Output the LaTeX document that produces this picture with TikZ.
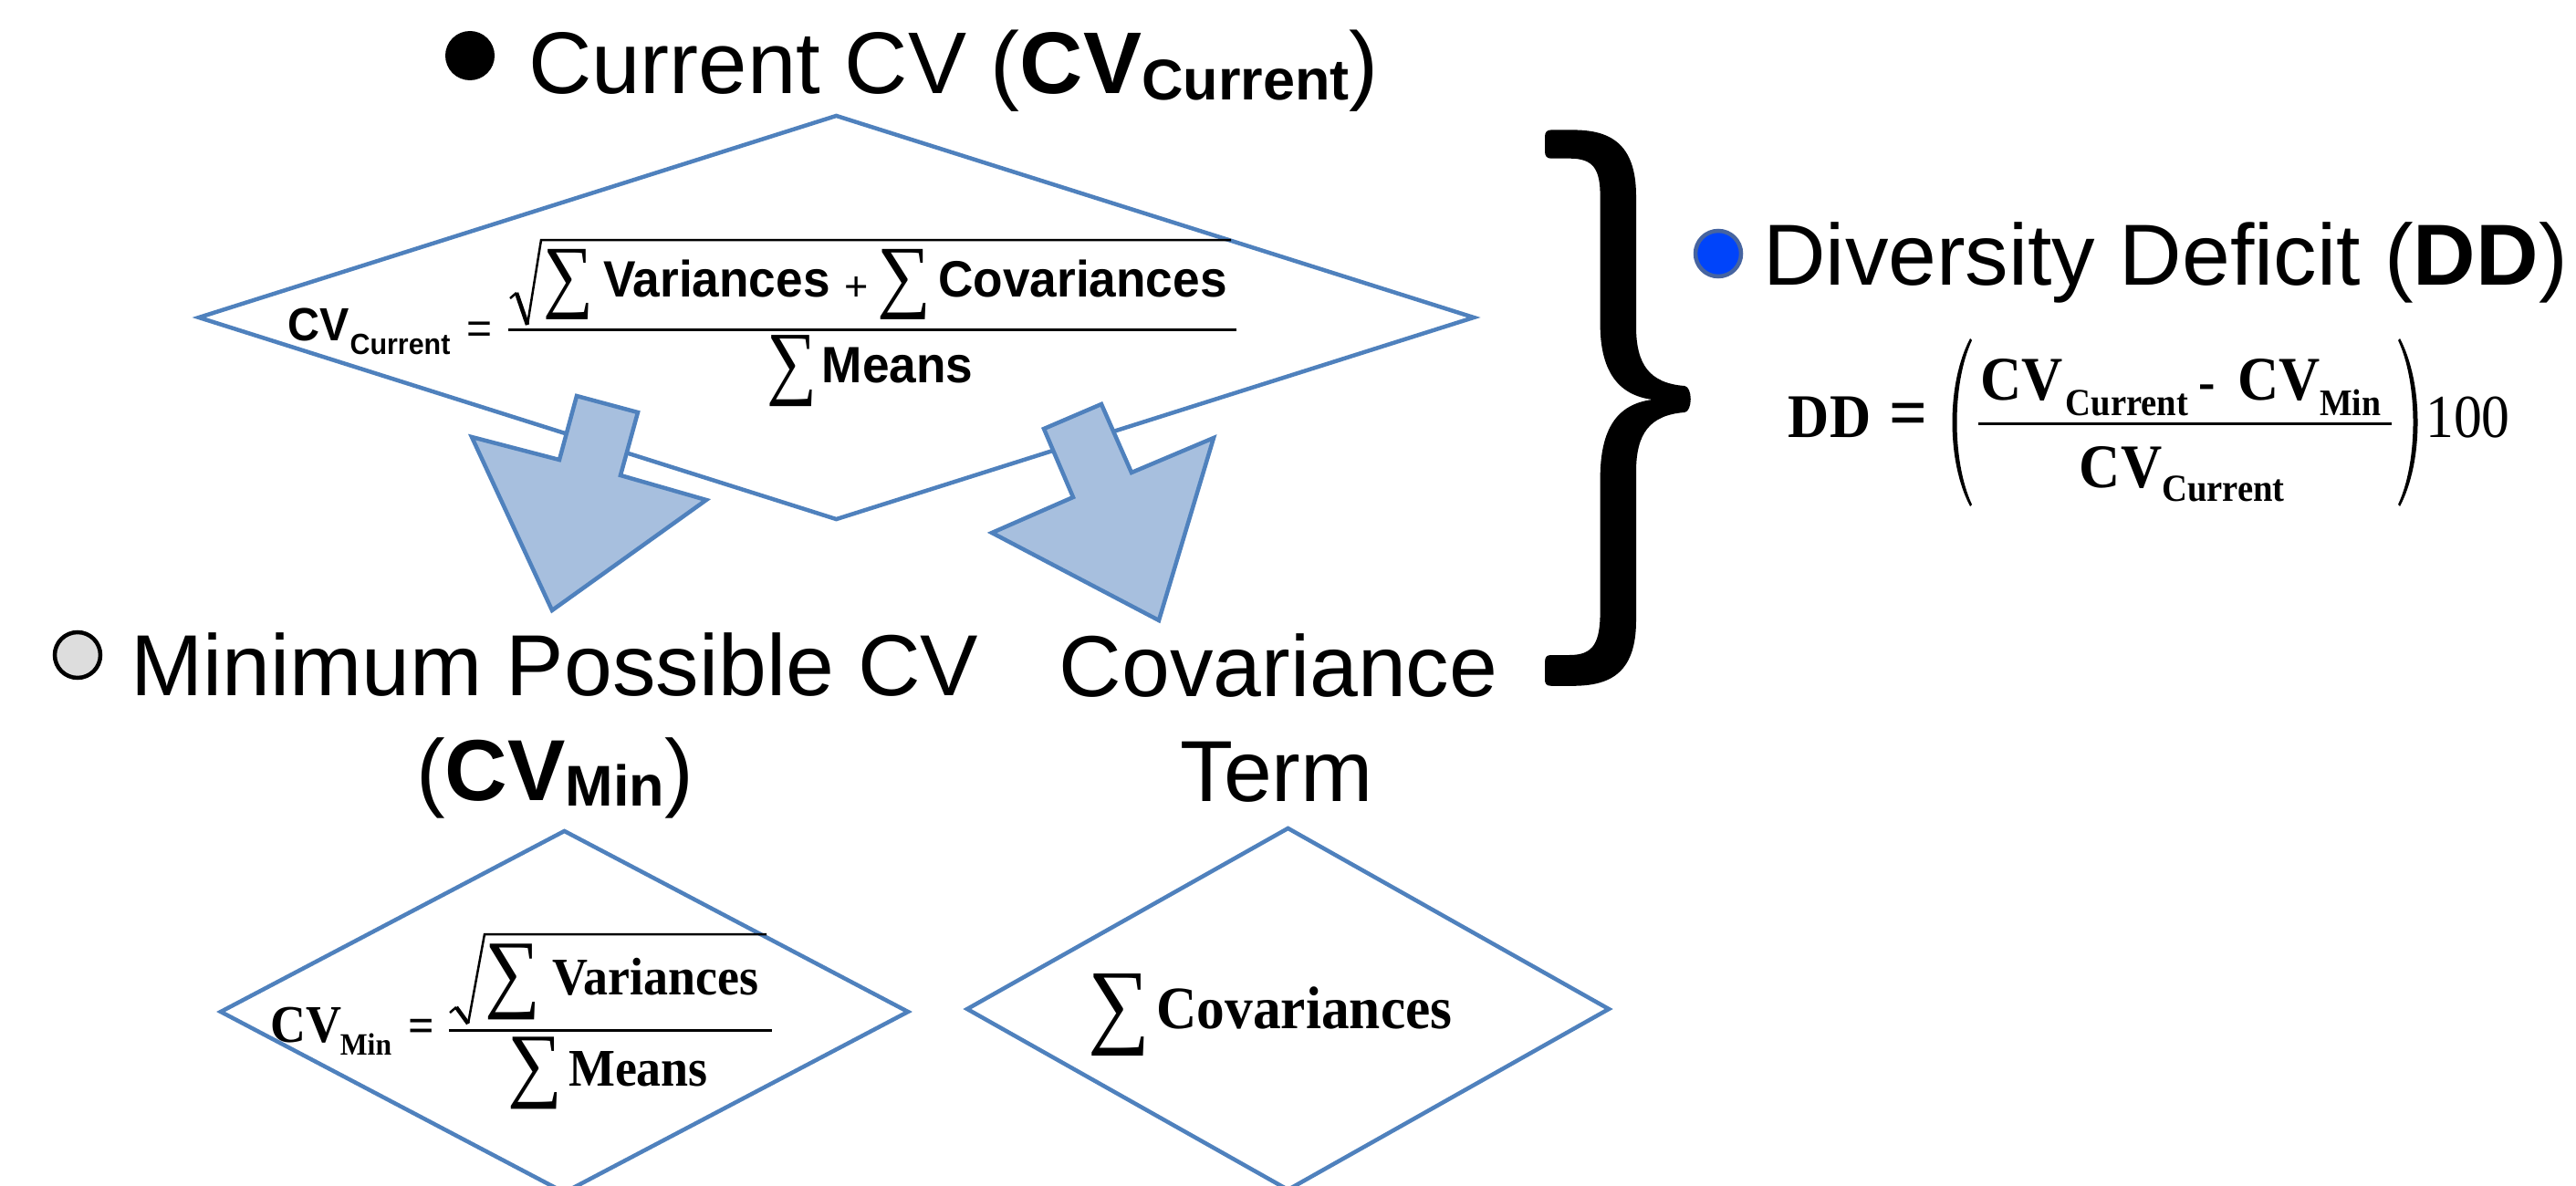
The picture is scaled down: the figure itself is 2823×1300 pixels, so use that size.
\documentclass[tikz,border=0pt]{standalone}
\usepackage{fontspec}
\usepackage{graphicx}
\usetikzlibrary{shapes.geometric}
\setmainfont{Liberation Sans}
\newfontfamily\sfcond[FakeStretch=0.95]{Liberation Sans}
\newfontfamily\rmcond[FakeStretch=0.93]{Liberation Serif}
\newfontfamily\rmdd[FakeStretch=0.92]{Liberation Serif}
\newfontfamily\sumfont{Liberation Serif}
\newcommand\fsz[1]{\fontsize{#1pt}{#1pt}\selectfont}
\newcommand\bigsum[2]{\resizebox*{#1pt}{#2pt}{\sumfont ∑}}
\definecolor{dblue}{RGB}{79,129,189}
\definecolor{lblue}{RGB}{167,191,222}
\definecolor{bulletblue}{RGB}{0,68,250}
\definecolor{bulletring}{RGB}{70,100,160}
\definecolor{bulletgray}{RGB}{221,221,221}
\tikzset{
  txt/.style={inner sep=0pt, outer sep=0pt, anchor=base},
  sumglyph/.style={inner sep=0pt, outer sep=0pt, anchor=north},
  dia/.style={diamond, draw=dblue, line width=4.5pt, fill=white, inner sep=0pt},
  blockarrow/.style={draw=dblue, fill=lblue, line width=4.5pt, line join=miter},
  fracbar/.style={line width=3pt},
  radical/.style={line width=2.5pt},
  bulletdot/.style={circle, inner sep=0pt, minimum size=50pt, line width=4.5pt},
}
\begin{document}
\begin{tikzpicture}[x=1pt,y=-1pt]
\useasboundingbox (0,0) rectangle (2823,1300);
\fill[white] (0,0) rectangle (2823,1300);

% ---------- top title ----------
\node[bulletdot, fill=black, minimum size=54pt] (b1) at (515,61) {};
\node[txt] (t1) at (1045,103) {\fsz{96}Current CV (\textbf{CV}\raisebox{-7pt}{\fsz{63}\bfseries Current})};

% ---------- top diamond ----------
\node[dia, minimum width=1399pt, minimum height=444pt] (d1) at (916.5,348) {};
\node[txt] (cvc) at (349.5,373) {\fsz{51}\sfcond\bfseries CV};
\node[txt] (cvcsub) at (438.5,388) {\fsz{32}\sfcond\bfseries Current};
\node[txt] (eq1) at (526,376) {\fsz{48}=};
\draw[fracbar] (557,361.6) -- (1355,361.6);
\draw[radical] (559,327) -- (566,321);
\draw[line width=4.5pt] (566,321) -- (578,356);
\draw[radical] (578,356) -- (593,263) -- (1349,263);
\node[sumglyph] (s1) at (623,273.6) {\bigsum{55}{77}};
\node[txt] (var1) at (785.5,325) {\fsz{56}\sfcond\bfseries Variances};
\node[txt] (plus1) at (938.5,329) {\fsz{45}+};
\node[sumglyph] (s2) at (991,273.6) {\bigsum{59}{77}};
\node[txt] (cov1) at (1186.5,325) {\fsz{56}\sfcond\bfseries Covariances};
\node[sumglyph] (s3) at (868,368) {\bigsum{55}{78}};
\node[txt] (mean1) at (983.5,419) {\fsz{56}\sfcond\bfseries Means};

% ---------- block arrows ----------
\draw[blockarrow] (632,434) -- (699,452) -- (680,521) -- (774,548) -- (605,669) -- (517,479) -- (613,504) -- cycle;
\draw[blockarrow] (1144,470) -- (1207,443) -- (1240,518) -- (1330,480) -- (1270,680) -- (1087,584) -- (1176,545) -- cycle;

% ---------- minimum possible CV ----------
\node[bulletdot, fill=bulletgray, draw=black] (b2) at (85,718) {};
\node[txt] (t2a) at (608,762) {\fsz{95}Minimum Possible CV};
\node[txt] (t2b) at (608,877) {\fsz{95}(\textbf{CV}\raisebox{-6pt}{\fsz{63}\bfseries Min})};

\node[dia, minimum width=755pt, minimum height=398pt] (d2) at (618.5,1109) {};
\node[txt] (cvm) at (335.5,1142) {\fsz{58}\rmcond\bfseries CV};
\node[txt] (cvmsub) at (401,1156) {\fsz{34}\rmcond\bfseries Min};
\node[txt] (eq2) at (462,1142) {\fsz{54}\rmcond\bfseries =};
\draw[fracbar] (492,1129) -- (846,1129);
\draw[radical] (493,1110) -- (500,1104);
\draw[line width=4.5pt] (500,1104) -- (513,1122);
\draw[radical] (513,1122) -- (531,1024) -- (840,1024);
\node[sumglyph] (s4) at (561.5,1035) {\bigsum{61}{83}};
\node[txt] (var2) at (718.5,1090) {\fsz{58}\rmcond\bfseries Variances};
\node[sumglyph] (s5) at (586.5,1137) {\bigsum{60}{79}};
\node[txt] (mean2) at (699.5,1190) {\fsz{58}\rmcond\bfseries Means};

% ---------- covariance term ----------
\node[txt] (t3a) at (1401,763) {\fsz{95}Covariance};
\node[txt] (t3b) at (1399,878) {\fsz{95}Term};
\node[dia, minimum width=705pt, minimum height=398pt] (d3) at (1411.5,1106) {};
\node[sumglyph] (s6) at (1226.5,1068) {\bigsum{68}{90}};
\node[txt] (cov2) at (1429.5,1127) {\fsz{66}\rmcond\bfseries Covariances};

% ---------- brace ----------
\fill[black] (1700,142.4) -- (1723,142.4)
  .. controls (1762,142.4) and (1793,155) .. (1793,215) -- (1793,358)
  .. controls (1793,400) and (1808,420) .. (1846,423)
  .. controls (1855,424) and (1855,451) .. (1846,452)
  .. controls (1808,455) and (1793,475) .. (1793,517) -- (1793,680)
  .. controls (1793,740) and (1762,751.8) .. (1723,751.8) -- (1700,751.8)
  .. controls (1694,751.8) and (1693,749) .. (1693,744) -- (1693,726)
  .. controls (1693,720) and (1695,718) .. (1700,718) -- (1720,718)
  .. controls (1746,718) and (1753.6,705) .. (1753.6,670) -- (1753.6,525)
  .. controls (1753.6,470) and (1772,443) .. (1810.7,438)
  .. controls (1772,433) and (1753.6,405) .. (1753.6,355) -- (1753.6,215)
  .. controls (1753.6,185) and (1746,173.7) .. (1720,173.7) -- (1700,173.7)
  .. controls (1695,173.7) and (1693,171) .. (1693,166) -- (1693,150)
  .. controls (1693,145) and (1695,142.4) .. (1700,142.4) -- cycle;

% ---------- diversity deficit ----------
\node[bulletdot, fill=bulletblue, draw=bulletring] (b4) at (1883,278) {};
\node[txt] (t4) at (2373,312) {\fsz{95}Diversity Deficit (\textbf{DD})};

\node[txt] (dd) at (2005,479) {\fsz{68}\rmdd\bfseries DD};
\node[txt] (eq3) at (2091,479) {\fsz{80}\rmdd\bfseries =};
\fill[black] (2159,371) .. controls (2133,420) and (2133,506) .. (2159,555)
  -- (2161,553) .. controls (2139,506) and (2139,420) .. (2161,373) -- cycle;
\fill[black] (2630,371) .. controls (2656,420) and (2656,506) .. (2630,555)
  -- (2628,553) .. controls (2650,506) and (2650,420) .. (2628,373) -- cycle;
\draw[fracbar] (2168,464) -- (2621,464);
\node[txt] (ncv1) at (2215.5,438.5) {\fsz{68}\rmdd\bfseries CV};
\node[txt] (ncur) at (2331,455) {\fsz{42}\rmdd\bfseries Current};
\node[txt] (minus) at (2419,438.5) {\fsz{60}\rmdd\bfseries -};
\node[txt] (ncv2) at (2497.5,438.5) {\fsz{68}\rmdd\bfseries CV};
\node[txt] (nmin) at (2575.5,455) {\fsz{41}\rmdd\bfseries Min};
\node[txt] (dcv) at (2324,534) {\fsz{68}\rmdd\bfseries CV};
\node[txt] (dcur) at (2436.5,549) {\fsz{42}\rmdd\bfseries Current};
\node[txt] (hund) at (2704.5,479) {\fsz{67}\rmdd 100};
\end{tikzpicture}
\end{document}
